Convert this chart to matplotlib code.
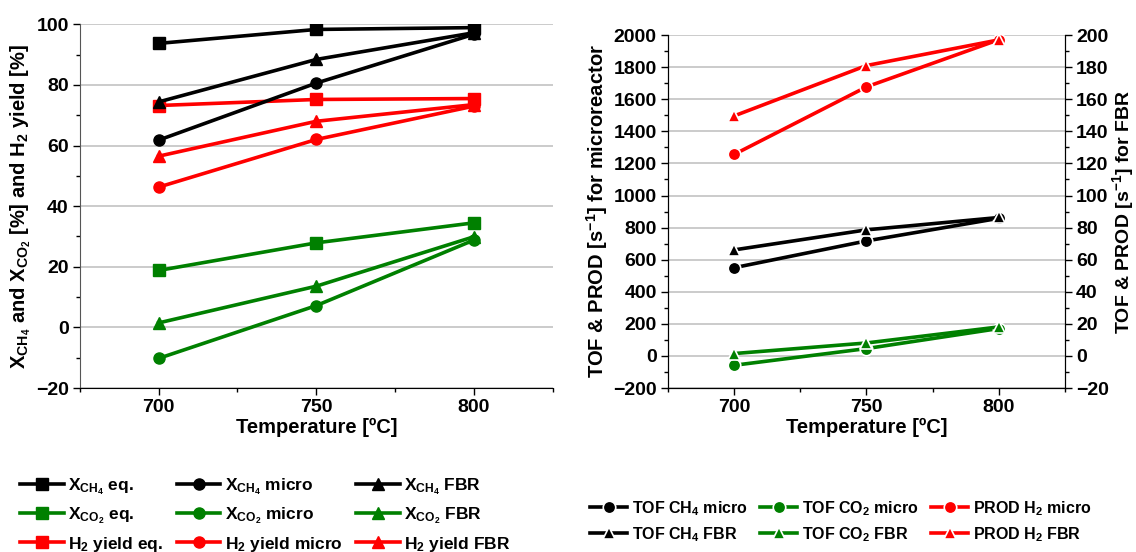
import numpy as np
import matplotlib.pyplot as plt
from matplotlib.ticker import MultipleLocator

plt.rcParams['font.family'] = ['Liberation Sans', 'DejaVu Sans']
plt.rcParams['font.weight'] = 'bold'
plt.rcParams['mathtext.fontset'] = 'custom'
plt.rcParams['mathtext.rm'] = 'Liberation Sans:bold'
plt.rcParams['mathtext.bf'] = 'Liberation Sans:bold'
plt.rcParams['mathtext.it'] = 'Liberation Sans:bold'

# ── Data ────────────────────────────────────────────────────────────────────
temps = [700, 750, 800]

# left panel: conversions / yields [%]
xch4_eq    = [93.7, 98.3, 98.9]
xch4_micro = [61.8, 80.6, 96.7]
xch4_fbr   = [74.4, 88.4, 97.2]
xco2_eq    = [18.8, 27.9, 34.5]
xco2_micro = [-10.2, 7.2, 28.8]
xco2_fbr   = [1.5, 13.6, 29.9]
h2_eq      = [73.2, 75.2, 75.5]
h2_micro   = [46.3, 62.0, 73.0]
h2_fbr     = [56.5, 68.0, 73.5]

# right panel: TOF / PROD [s^-1]
tof_ch4_micro = [550, 717, 858]
tof_co2_micro = [-58, 46, 171]
prod_h2_micro = [1256, 1677, 1971]
tof_ch4_fbr   = [66.1, 78.6, 86.3]
tof_co2_fbr   = [1.5, 8.1, 18.1]
prod_h2_fbr   = [149.6, 181.0, 197.0]

BLACK, GREEN, RED = '#000000', '#008000', '#ff0000'
GRID = '#bdbdbd'
TICK_FS = 14
LAB_FS = 14.5
LW = 2.6
MS = 8

fig = plt.figure(figsize=(11.36, 5.52), dpi=100, facecolor='white')

def style_axis(ax):
    ax.tick_params(axis='both', which='major', direction='out', length=5,
                   width=1, labelsize=TICK_FS, pad=3)
    ax.tick_params(axis='both', which='minor', direction='out', length=3, width=1)
    for lab in ax.get_xticklabels() + ax.get_yticklabels():
        lab.set_fontweight('bold')

# ═══════════ LEFT PANEL ═══════════
ax1 = fig.add_axes([0.0704, 0.297, 0.416, 0.659])
ax1.set_xlim(675, 825)
ax1.set_ylim(-20, 100)
ax1.yaxis.set_major_locator(MultipleLocator(20))
ax1.yaxis.set_minor_locator(MultipleLocator(10))
ax1.xaxis.set_major_locator(MultipleLocator(50))
ax1.xaxis.set_minor_locator(MultipleLocator(25))
ax1.grid(axis='y', which='major', color=GRID, lw=1.1)
ax1.set_axisbelow(True)
for sp in ['top', 'right']:
    ax1.spines[sp].set_visible(False)
ax1.spines['left'].set_color('#555555')

series_left = [
    (xch4_eq, BLACK, 's', r'X$_{\mathbf{CH}_\mathbf{4}}$ eq.'),
    (xco2_eq, GREEN, 's', r'X$_{\mathbf{CO}_\mathbf{2}}$ eq.'),
    (h2_eq, RED, 's', r'H$_\mathbf{2}$ yield eq.'),
    (xch4_micro, BLACK, 'o', r'X$_{\mathbf{CH}_\mathbf{4}}$ micro'),
    (xco2_micro, GREEN, 'o', r'X$_{\mathbf{CO}_\mathbf{2}}$ micro'),
    (h2_micro, RED, 'o', r'H$_\mathbf{2}$ yield micro'),
    (xch4_fbr, BLACK, '^', r'X$_{\mathbf{CH}_\mathbf{4}}$ FBR'),
    (xco2_fbr, GREEN, '^', r'X$_{\mathbf{CO}_\mathbf{2}}$ FBR'),
    (h2_fbr, RED, '^', r'H$_\mathbf{2}$ yield FBR'),
]
handles_left = []
for vals, c, m, lab in series_left:
    h, = ax1.plot(temps, vals, color=c, marker=m, lw=LW, ms=MS, label=lab)
    handles_left.append(h)

ax1.set_xticks(temps)
ax1.set_xlabel('Temperature [ºC]', fontsize=LAB_FS, fontweight='bold', labelpad=1)
ax1.set_ylabel(r'X$_{\mathbf{CH}_\mathbf{4}}$ and X$_{\mathbf{CO}_\mathbf{2}}$ [%] and H$_\mathbf{2}$ yield [%]',
               fontsize=LAB_FS, fontweight='bold', labelpad=2)
style_axis(ax1)

fig.legend(handles=handles_left, loc='upper left', bbox_to_anchor=(0.004, 0.166),
           ncol=3, frameon=False, handlelength=2.5,
           handletextpad=0.25, columnspacing=0.8, labelspacing=0.5,
           prop={'weight': 'bold', 'size': 12.5})

# ═══════════ RIGHT PANEL ═══════════
ax2 = fig.add_axes([0.588, 0.297, 0.3495, 0.6395])
ax3 = ax2.twinx()
ax2.set_xlim(675, 825)
ax2.set_ylim(-200, 2000)
ax3.set_ylim(-20, 200)
ax2.yaxis.set_major_locator(MultipleLocator(200))
ax2.yaxis.set_minor_locator(MultipleLocator(100))
ax3.yaxis.set_major_locator(MultipleLocator(20))
ax3.yaxis.set_minor_locator(MultipleLocator(10))
ax2.xaxis.set_major_locator(MultipleLocator(50))
ax2.xaxis.set_minor_locator(MultipleLocator(25))
ax2.grid(axis='y', which='major', color=GRID, lw=1.1)
ax2.set_axisbelow(True)
for a in (ax2, ax3):
    a.spines['top'].set_visible(False)

mk = dict(lw=LW, ms=MS + 1, markeredgecolor='white', markeredgewidth=1.2)
h_ch4_mi, = ax2.plot(temps, tof_ch4_micro, color=BLACK, marker='o', label=r'TOF CH$_\mathbf{4}$ micro', **mk)
h_co2_mi, = ax2.plot(temps, tof_co2_micro, color=GREEN, marker='o', label=r'TOF CO$_\mathbf{2}$ micro', **mk)
h_h2_mi, = ax2.plot(temps, prod_h2_micro, color=RED, marker='o', label=r'PROD H$_\mathbf{2}$ micro', **mk)
h_ch4_fb, = ax3.plot(temps, tof_ch4_fbr, color=BLACK, marker='^', label=r'TOF CH$_\mathbf{4}$ FBR', **mk)
h_co2_fb, = ax3.plot(temps, tof_co2_fbr, color=GREEN, marker='^', label=r'TOF CO$_\mathbf{2}$ FBR', **mk)
h_h2_fb, = ax3.plot(temps, prod_h2_fbr, color=RED, marker='^', label=r'PROD H$_\mathbf{2}$ FBR', **mk)

ax2.set_xticks(temps)
ax2.set_xlabel('Temperature [ºC]', fontsize=LAB_FS, fontweight='bold', labelpad=1)
ax2.set_ylabel(r'TOF & PROD [s$^\mathbf{-1}$] for microreactor', fontsize=LAB_FS,
               fontweight='bold', labelpad=2)
ax3.set_ylabel(r'TOF & PROD [s$^\mathbf{-1}$] for FBR', fontsize=14,
               fontweight='bold', labelpad=1)
style_axis(ax2)
style_axis(ax3)

fig.legend(handles=[h_ch4_mi, h_ch4_fb, h_co2_mi, h_co2_fb, h_h2_mi, h_h2_fb],
           loc='upper left', bbox_to_anchor=(0.507, 0.122), ncol=3,
           frameon=False, handlelength=2.3, handletextpad=0.3,
           columnspacing=0.8, labelspacing=0.45,
           prop={'weight': 'bold', 'size': 11.5})

fig.savefig('out.png', dpi=100, facecolor='white')
